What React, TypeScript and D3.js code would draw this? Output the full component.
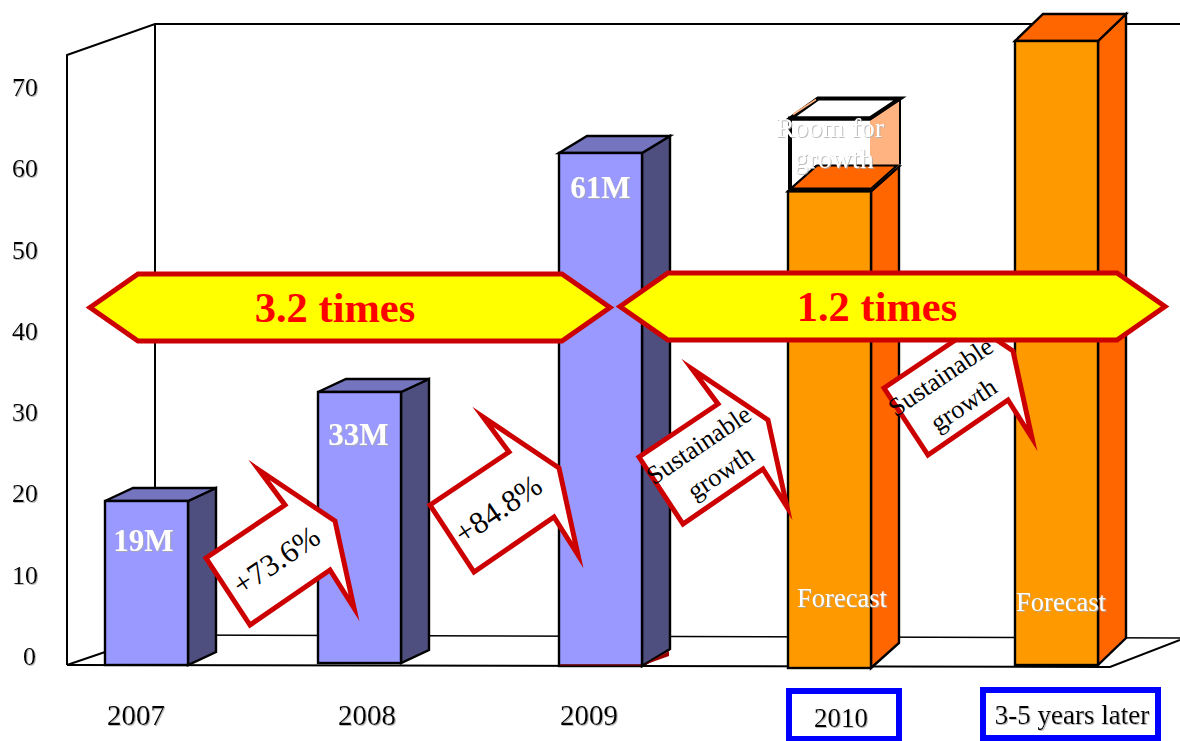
import React from "react";
import * as d3 from "d3";

// Chart values
const categories = ["2007", "2008", "2009", "2010", "3-5 years later"];
const barValues = [19, 33, 61, 56.5, 74];
const roomTopValue = 65;
const valueLabels = ["19M", "33M", "61M"];
const forecastCategories = ["2010", "3-5 years later"];
const axisTicks = [0, 10, 20, 30, 40, 50, 60, 70];
const growthLabels = ["+73.6%", "+84.8%"];
const spanLabels = ["3.2 times", "1.2 times"];

// The vertical scale is hand-tuned through the labelled bars
const y = d3.scaleLinear().domain([0, 19, 33, 61, 74]).range([665, 501, 392, 153, 41]);
const tickY = d3.scaleLinear().domain([0, 70]).range([665, 96]);
const barLeft = d3.scaleOrdinal<string, number>().domain(categories).range([105, 318, 559, 788, 1015]);
const barBase = d3.scaleOrdinal<string, number>().domain(categories).range([665, 663, 666, 668, 665]);
const barRise = d3.scaleOrdinal<string, number>().domain(categories).range([13, 13, 17, 25, 27]);
const barWidth = 83;
const barDepth = 28;

const path = d3.line<[number, number]>().curve(d3.curveLinearClosed);
const open = d3.line<[number, number]>();

const SERIF = "'Liberation Serif', 'Times New Roman', serif";
const RED = "#cc0000";

function Bar({ cat, value, front, side, top }: { cat: string; value: number; front: string; side: string; top: string }) {
  const x0 = barLeft(cat);
  const x1 = x0 + barWidth;
  const yt = y(value);
  const yb = barBase(cat);
  const r = barRise(cat);
  return (
    <g stroke="#000" strokeWidth={2.4} strokeLinejoin="miter">
      <path d={path([[x1, yt], [x1 + barDepth, yt - r], [x1 + barDepth, yb - r], [x1, yb]])!} fill={side} />
      <path d={path([[x0, yt], [x0 + barDepth, yt - r], [x1 + barDepth, yt - r], [x1, yt]])!} fill={top} />
      <rect x={x0} y={yt} width={barWidth} height={yb - yt} fill={front} />
    </g>
  );
}

// Tilted block arrow shared by all four callouts, placed by an offset
const calloutShape: [number, number][] = [
  [206, 558], [285, 505], [259, 470], [335, 521], [354, 608], [330, 570], [250, 625],
];

function Callout({ dx, dy, lines, size, anchors }: { dx: number; dy: number; lines: string[]; size: number; anchors: [number, number][] }) {
  return (
    <g>
      <path
        d={path(calloutShape.map(([a, b]) => [a + dx, b + dy] as [number, number]))!}
        fill="#fff"
        stroke={RED}
        strokeWidth={5}
        strokeMiterlimit={10}
      />
      {lines.map((t, i) => (
        <text
          key={t}
          transform={`translate(${anchors[i][0]},${anchors[i][1]}) rotate(-34)`}
          textAnchor="middle"
          dominantBaseline="middle"
          fontSize={size}
          fill="#000"
        >
          {t}
        </text>
      ))}
    </g>
  );
}

function SpanArrow({ x0, x1, yTop, yBot, label, labelX, labelY }: { x0: number; x1: number; yTop: number; yBot: number; label: string; labelX: number; labelY: number }) {
  const mid = (yTop + yBot) / 2;
  const head = 48;
  return (
    <g>
      <path
        d={path([[x0, mid], [x0 + head, yTop], [x1 - head, yTop], [x1, mid], [x1 - head, yBot], [x0 + head, yBot]])!}
        fill="#ffff00"
        stroke={RED}
        strokeWidth={5}
        strokeMiterlimit={10}
      />
      <text x={labelX} y={labelY} textAnchor="middle" fontSize={42.5} fontWeight="bold" fill="#ff0000">
        {label}
      </text>
    </g>
  );
}

export default function App() {
  const room = categories[3];
  const rx0 = barLeft(room) + 2;
  const rx1 = barLeft(room) + barWidth - 1;
  const ryTop = y(roomTopValue);
  const ryBot = y(barValues[3]) - 2;
  const rr = 20;

  const cat2009 = categories[2];
  const x2009 = barLeft(cat2009);
  const base2009 = barBase(cat2009);

  return (
    <svg
      width={1180}
      height={741}
      viewBox="0 0 1180 741"
      style={{ position: "absolute", left: 0, top: 0, background: "#fff" }}
      fontFamily={SERIF}
    >
      <defs>
        <filter id="softShadow" x="-10%" y="-10%" width="120%" height="130%">
          <feDropShadow dx={1} dy={1} stdDeviation={0.4} floodColor="#aaa" floodOpacity={0.8} />
        </filter>
      </defs>

      {/* Back walls and floor */}
      <g fill="none" stroke="#000" strokeWidth={2}>
        <path d={open([[67, 665], [67, 55], [155, 24], [1180, 24]])!} />
        <path d={open([[155, 24], [155, 635], [67, 665]])!} />
        <path d={open([[155, 635], [1180, 638]])!} strokeWidth={1.6} />
        <path d={open([[67, 665], [1110, 667], [1180, 640]])!} />
      </g>

      {/* Axis labels */}
      <g fontSize={26} fill="#000" textAnchor="end" filter="url(#softShadow)">
        {axisTicks.map((t) => (
          <text key={t} x={t === 0 ? 36 : 38} y={tickY(t)}>
            {t}
          </text>
        ))}
      </g>

      {categories.slice(0, 3).map((c, i) => (
        <Bar key={c} cat={c} value={barValues[i]} front="#9999ff" side="#4f4f7f" top="#7575bf" />
      ))}
      {categories.slice(3).map((c, i) => (
        <Bar key={c} cat={c} value={barValues[i + 3]} front="#ff9900" side="#ff6600" top="#ff6600" />
      ))}

      {/* Dark red sliver showing under the 2009 bar */}
      <path
        d={path([[x2009 + barWidth + 2, base2009 - 1], [x2009 + barWidth + barDepth - 1, base2009 - 15], [x2009 + barWidth + barDepth - 1, base2009 - 10]])!}
        fill="#990000"
      />
      <path d={open([[x2009 + 1, base2009 - 1], [x2009 + barWidth - 1, base2009 - 1]])!} stroke="#660000" strokeWidth={1.4} fill="none" />

      {/* Empty headroom box above the 2010 bar */}
      <g stroke="#000" strokeWidth={4} strokeLinejoin="miter">
        <path d={path([[rx1, ryTop], [rx1 + barDepth + 2, ryTop - rr], [rx1 + barDepth + 2, ryBot - rr - 5], [rx1, ryBot]])!} fill="#ffb380" strokeWidth={0} />
        <path d={open([[rx1 + barDepth + 2, ryBot - rr - 5], [rx1 + barDepth + 2, ryTop - rr]])!} fill="none" strokeWidth={2} />
        <path d={path([[rx0, ryTop], [rx0 + 28, ryTop - rr], [rx1 + barDepth + 2, ryTop - rr], [rx1, ryTop]])!} fill="#fff" />
        <path d={path([[rx0, ryBot], [rx0 + 27, ryBot - 24], [rx1 + 27, ryBot - 24], [rx1, ryBot]])!} fill="#ff6600" strokeWidth={2} />
        <path d={open([[rx0 + 3, ryTop - 4], [rx0 + 26, ryTop - rr + 1]])!} fill="none" stroke="#ffb380" strokeWidth={1.6} />
        <path d={open([[rx0, ryBot], [rx0, ryTop], [rx1, ryTop]])!} fill="none" />
        <path d={open([[rx0, ryBot], [rx1, ryBot]])!} fill="none" />
      </g>
      <g fill="#fff" textAnchor="middle" fontSize={28} filter="url(#softShadow)">
        <text x={830} y={137}>Room for</text>
        <text x={834} y={168}>growth</text>
      </g>

      {/* Labels on the measured bars */}
      <g fill="#fff" fontWeight="bold" fontSize={31} textAnchor="middle" filter="url(#softShadow)">
        {valueLabels.map((l, i) => (
          <text key={l} x={barLeft(categories[i]) + barWidth / 2 - (i === 0 ? 3 : i === 1 ? 1 : 0)} y={y(barValues[i]) + (i === 0 ? 50 : 53 - (i === 2 ? 8 : 0))}>
            {l}
          </text>
        ))}
      </g>
      <g fill="#fff" fontSize={26.5} textAnchor="middle" filter="url(#softShadow)">
        {forecastCategories.map((c, i) => (
          <text key={c} x={barLeft(c) + 54 - i * 8} y={607 + i * 4}>
            Forecast
          </text>
        ))}
      </g>

      <Callout dx={678} dy={-170} lines={["Sustainable", "growth"]} size={26} anchors={[[942, 379], [965, 407]]} />

      <SpanArrow x0={90} x1={610} yTop={274} yBot={341} label={spanLabels[0]} labelX={335} labelY={322} />
      <SpanArrow x0={620} x1={1165} yTop={273} yBot={340} label={spanLabels[1]} labelX={877} labelY={321} />

      <Callout dx={0} dy={0} lines={[growthLabels[0]]} size={31} anchors={[[278, 563]]} />
      <Callout dx={224} dy={-53} lines={[growthLabels[1]]} size={31} anchors={[[500, 512]]} />
      <Callout dx={433} dy={-101} lines={["Sustainable", "growth"]} size={26} anchors={[[700, 447], [722, 475]]} />

      {/* Category labels; the forecast years sit in blue boxes */}
      <g fontSize={29} fill="#000" textAnchor="middle" filter="url(#softShadow)">
        <text x={136} y={725}>{categories[0]}</text>
        <text x={367} y={725}>{categories[1]}</text>
        <text x={589} y={725}>{categories[2]}</text>
      </g>
      <g fill="#fff" stroke="#0000ff" strokeWidth={6}>
        <rect x={789} y={691} width={110} height={48} />
        <rect x={983} y={690} width={175} height={48} />
      </g>
      <g fontSize={27} fill="#000" textAnchor="middle" filter="url(#softShadow)">
        <text x={841} y={727}>{categories[3]}</text>
        <text x={1072} y={724}>{categories[4]}</text>
      </g>
    </svg>
  );
}
